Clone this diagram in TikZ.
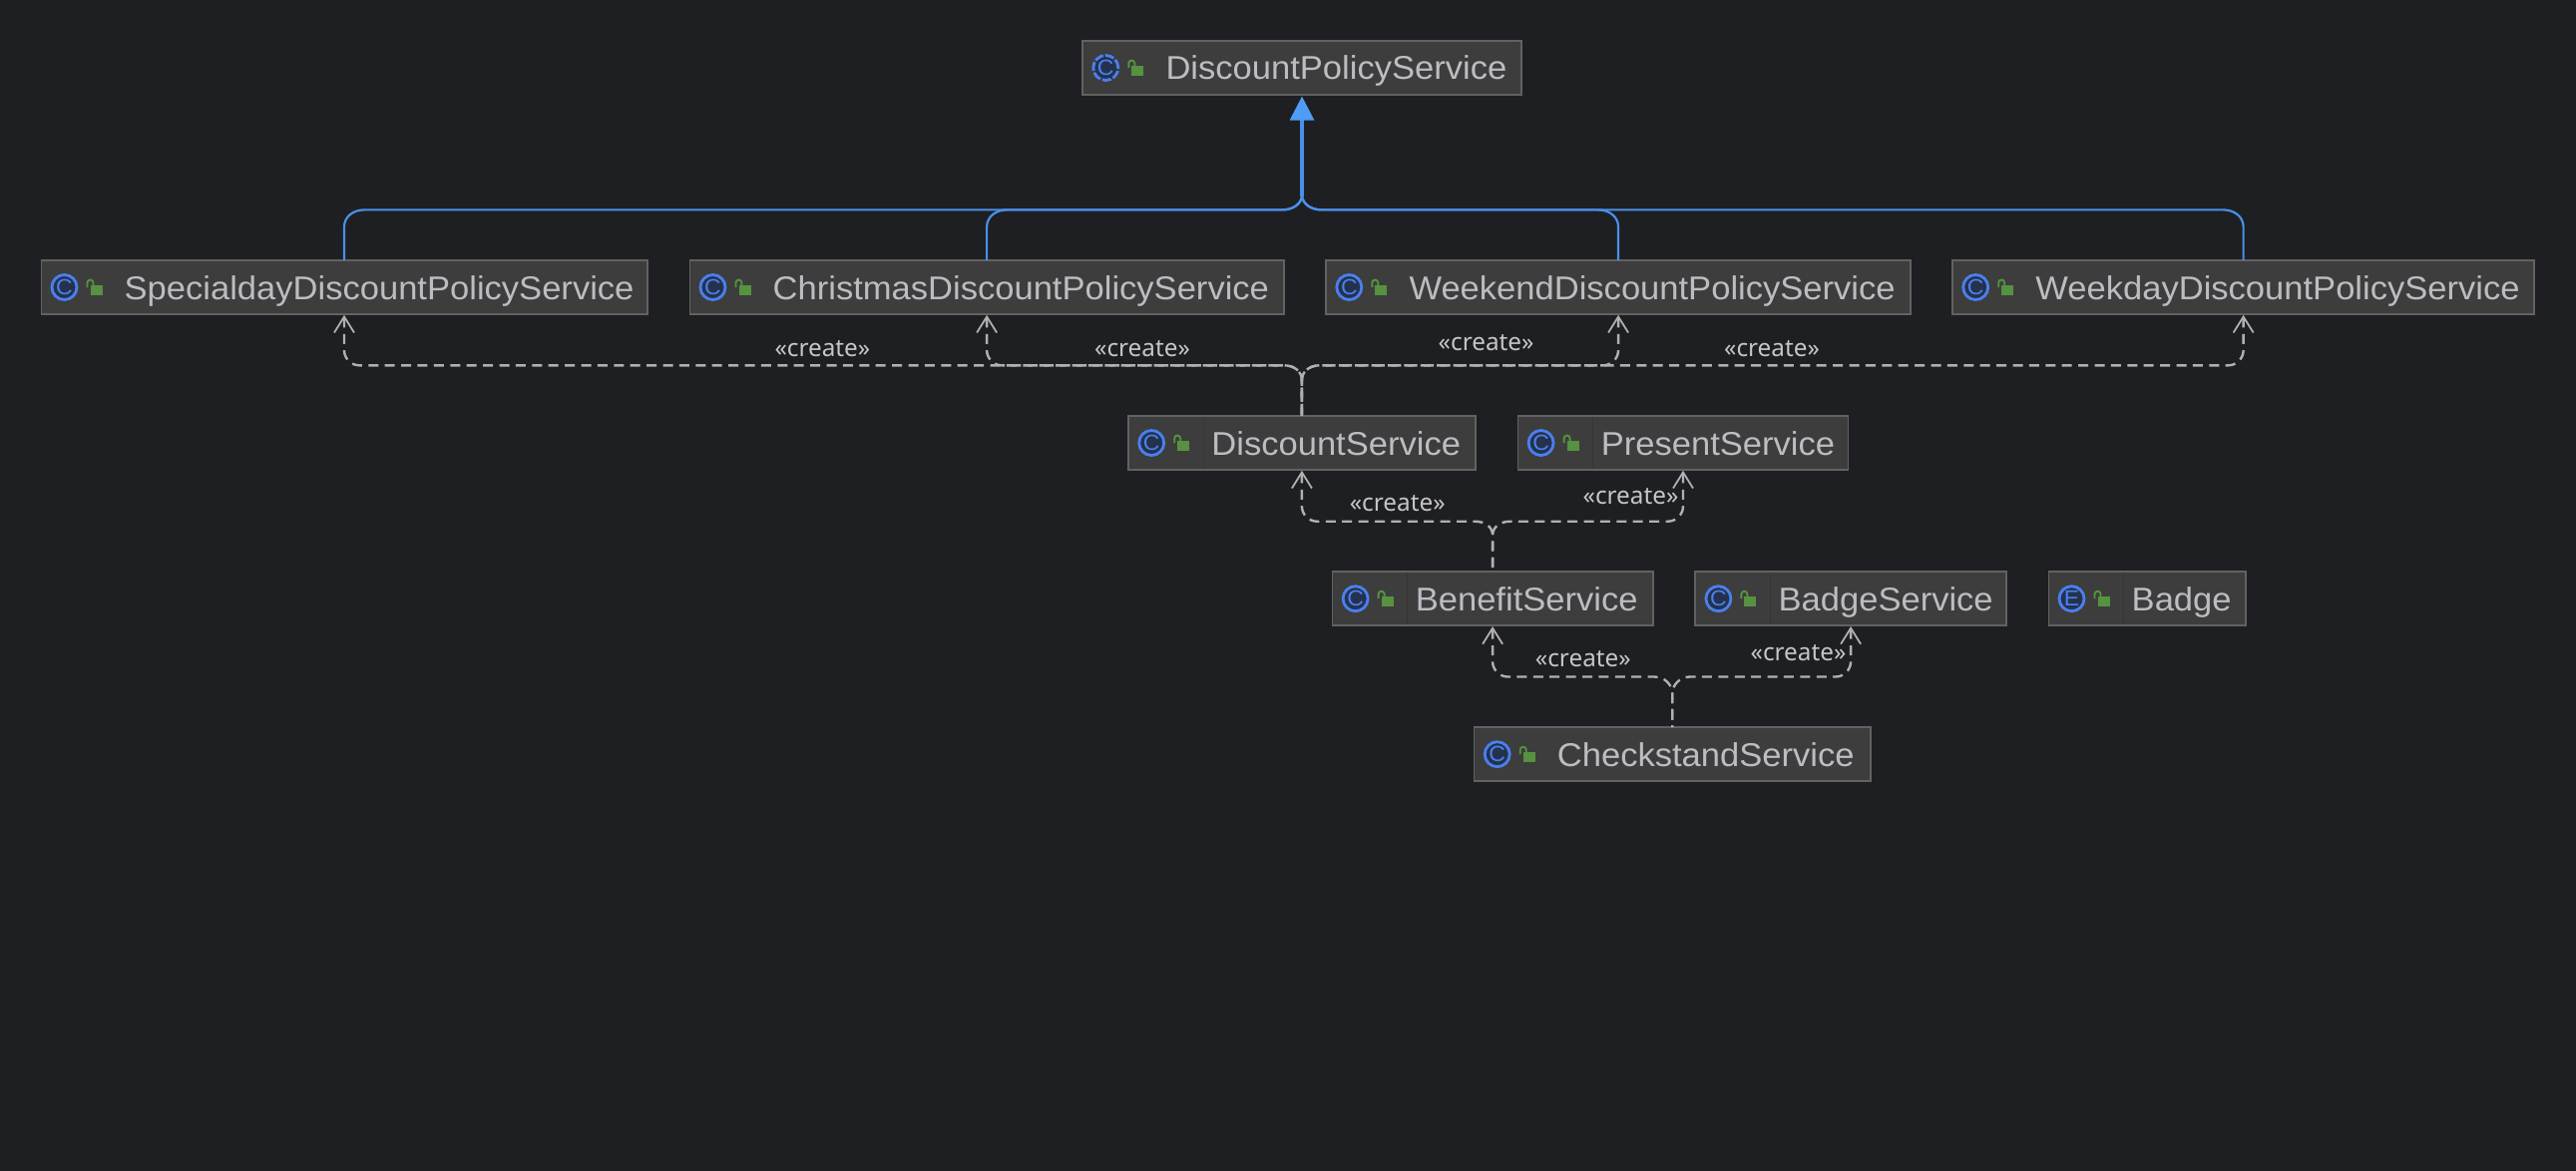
\documentclass[tikz,border=0pt]{standalone}
\usepackage{fontspec}
\setmainfont[FakeStretch=1.047]{Liberation Sans}
\newfontfamily\labelfont{Noto Sans}
\usetikzlibrary{arrows.meta,calc}
\definecolor{bgc}{HTML}{1E1F22}
\definecolor{boxfill}{HTML}{3D3D3D}
\definecolor{boxline}{HTML}{626262}
\definecolor{divline}{HTML}{363636}
\definecolor{txtc}{HTML}{BCBCC2}
\definecolor{lblc}{HTML}{C6C6CA}
\definecolor{inhc}{HTML}{4A90E8}
\definecolor{inhtip}{HTML}{4F9BF8}
\definecolor{depc}{HTML}{B0B0B2}
\definecolor{icoring}{HTML}{4A80EE}
\definecolor{icofill}{HTML}{25324D}
\definecolor{lockc}{HTML}{56923F}
\tikzset{
  x=1pt,y=-1pt,
  classbox/.style={draw=boxline,fill=boxfill,line width=1.6pt,minimum height=54.2pt,inner sep=0pt,outer sep=0pt,anchor=north west},
  classname/.style={anchor=base west,inner sep=0pt,text=txtc,font=\fontsize{33}{36}\selectfont},
  classicon/.style={circle,draw=icoring,fill=icofill,line width=2.8pt,minimum size=25pt,inner sep=0pt,outer sep=0pt},
  iconglyph/.style={text=icoring,font=\fontsize{22}{24}\selectfont,inner sep=0pt},
  inhline/.style={draw=inhc,line width=2.2pt},
  inhtrunk/.style={draw=inhc,line width=3.2pt,shorten >=1.6pt,-{Triangle[length=24pt,width=24pt,color=inhtip]}},
  depline/.style={draw=depc,line width=2.4pt,dash pattern=on 10pt off 6.4pt,shorten <=0.8pt,{Straight Barb[length=16pt,width=20pt,line width=1.8pt]}-},
  createlbl/.style={text=lblc,inner sep=0pt,font=\labelfont\fontsize{24.3}{26}\selectfont},
}
% name, left, top, right, text, glyph, ring extra style
\newcommand{\classitem}[7]{%
  \node[classbox,minimum width=#4-#2-1.6] (#1) at (#2+0.8,#3+0.8) {};
  \node[classicon,#7] (#1-ring) at (#2+24,#3+28) {};
  \node[iconglyph] (#1-glyph) at (#1-ring) {#6};
  \fill[lockc] (#2+50,#3+26) rectangle (#2+62,#3+36);
  \draw[lockc,line width=1.9pt] (#2+47,#3+28) -- (#2+47,#3+23.5) arc[start angle=180,end angle=0,x radius=3,y radius=-3] -- (#2+53,#3+26);
  \node[classname] (#1-name) at (#2+84,#3+40) {#5};
}
\newcommand{\classdiv}[1]{\draw[divline,line width=1.4pt] ($(#1.north west)+(75.2,1)$) -- ($(#1.south west)+(75.2,-1)$);}
% realisation feeder: child, hub, side sign
\newcommand{\inhfeed}[3]{%
  \coordinate (hs) at ($(#2)+(#3*20,13.6)$);
  \draw[inhline] (#1.north) -- ($(#1.north |- hs)+(0,17)$)
    .. controls +(0,-10) and +(#3*11,0) .. ($(#1.north |- hs)+(#3*-20,0)$)
    -- (hs) .. controls +(#3*-12,0) and +(#3*1,7) .. (#2);}
% dependency: target, source, hub, side sign, horizontal rise
\newcommand{\depedge}[5]{%
  \coordinate (hs) at ($(#3)+(#4*18,#5)$);
  \draw[depline] (#1.south) -- ($(#1.south |- hs)+(0,-15)$)
    .. controls +(0,8) and +(#4*8,0) .. ($(#1.south |- hs)+(#4*-15,0)$)
    -- (hs) .. controls +(#4*-11,0) and +(0,-8) .. (#3) -- (#2.north);}
\begin{document}
\begin{tikzpicture}
\useasboundingbox (0,0) rectangle (2582,1174);
\fill[bgc] (0,0) rectangle (2582,1174);

\classitem{dps}{1084.3}{40}{1525.7}{DiscountPolicyService}{C}{dash pattern=on 9pt off 2pt}
\classitem{spe}{40.5}{260}{649.5}{SpecialdayDiscountPolicyService}{C}{}
\classitem{chr}{690.5}{260}{1287.7}{ChristmasDiscountPolicyService}{C}{}
\classitem{wke}{1328.3}{260}{1915.8}{WeekendDiscountPolicyService}{C}{}
\classitem{wkd}{1956.2}{260}{2541}{WeekdayDiscountPolicyService}{C}{}
\classitem{dis}{1130.2}{416}{1479.6}{DiscountService}{C}{}
\classitem{pre}{1520.6}{416}{1853.4}{PresentService}{C}{}
\classitem{ben}{1334.6}{572.2}{1657.6}{BenefitService}{C}{}
\classitem{bad}{1698.4}{572.2}{2011.7}{BadgeService}{C}{}
\classitem{bdg}{2052.5}{572.2}{2251.8}{Badge}{E}{}
\classitem{chk}{1476.7}{728.2}{1875.7}{CheckstandService}{C}{}
\classdiv{dis}\classdiv{pre}\classdiv{ben}\classdiv{bad}\classdiv{bdg}

% realisation edges
\coordinate (ih) at ($(dps.south)+(0,101.8)$);
\inhfeed{spe}{ih}{-1}
\inhfeed{chr}{ih}{-1}
\inhfeed{wke}{ih}{1}
\inhfeed{wkd}{ih}{1}
\draw[inhtrunk] (ih) -- (dps.south);

% create edges
\coordinate (h1) at ($(dis.north)+(0,-35.8)$);
\depedge{spe}{dis}{h1}{-1}{-14.7}
\depedge{chr}{dis}{h1}{-1}{-14.7}
\depedge{wke}{dis}{h1}{1}{-14.7}
\depedge{wkd}{dis}{h1}{1}{-14.7}
\coordinate (h2) at ($(ben.north)+(0,-36.3)$);
\depedge{dis}{ben}{h2}{-1}{-14}
\depedge{pre}{ben}{h2}{1}{-14}
\coordinate (h3) at ($(chk.north)+(0,-33.8)$);
\depedge{ben}{chk}{h3}{-1}{-16.7}
\depedge{bad}{chk}{h3}{1}{-16.7}

\node[createlbl] (l1) at (824.4,350) {«create»};
\node[createlbl] (l2) at (1145,350) {«create»};
\node[createlbl] (l3) at (1489.6,343.5) {«create»};
\node[createlbl] (l4) at (1776,350) {«create»};
\node[createlbl] (l5) at (1400.7,505) {«create»};
\node[createlbl] (l6) at (1634.5,498) {«create»};
\node[createlbl] (l7) at (1586.8,661) {«create»};
\node[createlbl] (l8) at (1802.5,654.7) {«create»};
\end{tikzpicture}
\end{document}
